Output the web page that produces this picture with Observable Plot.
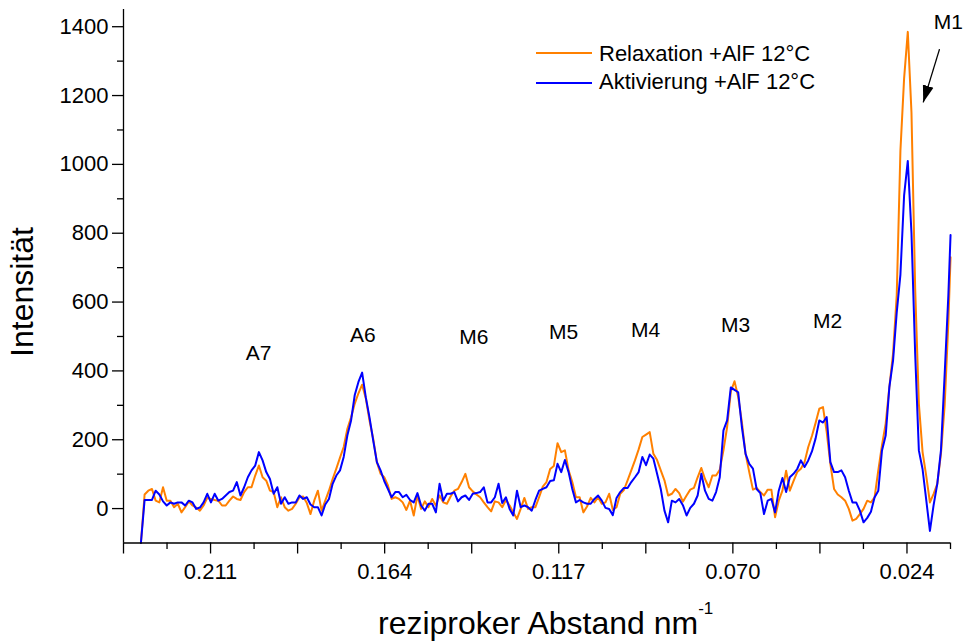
<!DOCTYPE html>
<html><head><meta charset="utf-8">
<script src="https://cdn.jsdelivr.net/npm/d3@7"></script>
<script src="https://cdn.jsdelivr.net/npm/@observablehq/plot@0.6"></script>
<style>
body{margin:0;background:#fff;font-family:"Liberation Sans",Arial,sans-serif;}
#wrap{position:relative;width:964px;height:641px;overflow:hidden;}
#wrap svg{position:absolute;left:0;top:0;}
.t{position:absolute;color:#000;white-space:nowrap;line-height:1;}
.lg{position:absolute;height:0;}
</style></head><body><div id="wrap"></div>
<script>
// reciprocal distance (nm^-1), sampling of the spectrum
const xGrid = [
0.2292,0.22821,0.22722,0.22623,0.22524,0.22425,0.22326,0.22227,0.22128,0.22029,
0.2193,0.21831,0.21732,0.21633,0.21534,0.21435,0.21336,0.21237,0.21138,0.21039,
0.2094,0.20841,0.20742,0.20643,0.20544,0.20445,0.20346,0.20247,0.20148,0.20049,
0.1995,0.19851,0.19752,0.19653,0.19554,0.19455,0.19356,0.19257,0.19158,0.19059,
0.1896,0.18861,0.18762,0.18663,0.18564,0.18465,0.18366,0.18267,0.18168,0.18069,
0.1797,0.17871,0.17772,0.17673,0.17574,0.17475,0.17376,0.17277,0.17178,0.17079,
0.1698,0.16881,0.16782,0.16683,0.16584,0.16485,0.16386,0.16287,0.16188,0.16089,
0.1599,0.15891,0.15792,0.15693,0.15594,0.15495,0.15396,0.15297,0.15198,0.15099,
0.15,0.14901,0.14802,0.14703,0.14604,0.14505,0.14406,0.14307,0.14208,0.14109,
0.1401,0.13911,0.13812,0.13713,0.13614,0.13515,0.13416,0.13317,0.13218,0.13119,
0.1302,0.12921,0.12822,0.12723,0.12624,0.12525,0.12426,0.12327,0.12228,0.12129,
0.1203,0.11931,0.11832,0.11733,0.11634,0.11535,0.11436,0.11337,0.11238,0.11139,
0.1104,0.10941,0.10842,0.10743,0.10644,0.10545,0.10446,0.10347,0.10248,0.10149,
0.1005,0.09951,0.09852,0.09753,0.09654,0.09555,0.09456,0.09357,0.09258,0.09159,
0.0906,0.08961,0.08862,0.08763,0.08664,0.08565,0.08466,0.08367,0.08268,0.08169,
0.0807,0.07971,0.07872,0.07773,0.07674,0.07575,0.07476,0.07377,0.07278,0.07179,
0.0708,0.06981,0.06882,0.06783,0.06684,0.06585,0.06486,0.06387,0.06288,0.06189,
0.0609,0.05991,0.05892,0.05793,0.05694,0.05595,0.05496,0.05397,0.05298,0.05199,
0.051,0.05001,0.04902,0.04803,0.04704,0.04605,0.04506,0.04407,0.04308,0.04209,
0.0411,0.04011,0.03912,0.03813,0.03714,0.03615,0.03516,0.03417,0.03318,0.03219,
0.0312,0.03021,0.02922,0.02823,0.02724,0.02625,0.02526,0.02427,0.02328,0.02229,
0.0213,0.02031,0.01932,0.01833,0.01734,0.01635,0.01536,0.01437,0.01338,0.01239,
0.0118];

// Intensität, Relaxation +AlF 12°C (orange)
const relaxation = [
-100,41,52,57,23,18,62,23,23,4,
14,-11,4,21,9,3,-6,9,31,28,
25,23,9,9,23,35,28,25,48,62,
62,96,125,91,81,52,48,4,33,4,
-6,-1,14,33,35,16,-16,23,52,-6,
23,52,86,116,148,179,232,265,305,335,
360,320,256,203,135,101,91,67,28,33,
28,18,-4,23,-20,38,-1,21,4,28,
9,38,18,14,35,52,57,77,101,62,
50,41,33,18,4,-8,21,18,4,25,
9,-11,-30,-1,31,-1,4,4,33,64,
77,115,124,190,164,169,111,77,33,33,
-11,6,31,18,33,14,18,43,-4,4,
43,54,82,111,140,172,208,215,222,159,
141,111,82,38,43,57,45,20,38,55,
60,91,118,86,62,96,96,113,169,237,
340,370,324,251,159,106,55,60,48,38,
55,55,-25,23,52,110,52,80,106,116,
135,179,211,249,290,295,223,130,57,41,
33,23,-1,-35,-30,-16,-1,23,18,33,
111,184,247,353,450,620,1040,1250,1385,1150,
640,305,165,95,18,43,72,160,300,540,
730];

// Intensität, Aktivierung +AlF 12°C (blue)
const aktivierung = [
-100,25,25,25,52,41,21,9,18,14,
18,18,9,23,18,-1,3,18,43,18,
43,23,28,38,48,52,77,38,62,91,
111,125,164,140,106,86,43,62,14,33,
14,18,18,38,28,33,12,4,4,-20,
12,28,72,96,111,150,213,256,330,368,
395,323,265,198,135,111,80,57,33,48,
48,33,40,25,18,45,9,-6,14,14,
-11,72,23,43,43,48,21,33,38,25,
43,45,48,62,18,18,33,72,16,33,
-1,-20,52,4,9,4,-6,25,52,57,
62,80,82,130,106,141,106,57,18,25,
18,14,14,28,38,23,2,-1,-19,31,
48,60,60,77,91,106,150,126,157,145,
101,57,-6,-40,23,18,28,10,-20,2,
14,38,101,52,28,23,48,91,227,256,
352,345,338,237,159,130,116,57,45,-16,
23,28,-11,52,89,48,91,101,115,140,
121,140,166,204,256,250,266,135,106,106,
111,91,52,18,18,-6,-40,-27,-9,33,
52,169,212,353,430,570,680,910,1010,800,
450,169,115,25,-65,10,72,170,390,620,
795];

const seriesNames = ["Relaxation +AlF 12°C", "Aktivierung +AlF 12°C"];
const seriesColors = ["#ff8000", "#0000ff"];

// axes
const xDomain = [0.233875, 0.0118125];
const yDomain = [-100, 1450];
const xLabeledTicks = [0.2105, 0.16375, 0.117, 0.07025, 0.0235];
const xTickLabels = ["0.211", "0.164", "0.117", "0.070", "0.024"];
const xUnlabeledMajor = [0.233875, 0.187125, 0.140375, 0.093625, 0.046875];
const xMinorTicks = [0.2221875, 0.1988125, 0.1754375, 0.1520625, 0.1286875, 0.1053125, 0.0819375, 0.0585625, 0.0351875, 0.0118125];
const yMajorTicks = [0, 200, 400, 600, 800, 1000, 1200, 1400];
const yMinorTicks = [100, 300, 500, 700, 900, 1100, 1300];
const xTitle = "reziproker Abstand nm";
const xTitleSup = "-1";
const yTitle = "Intensität";

// peak annotations
const peakNames = ["A7", "A6", "M6", "M5", "M4", "M3", "M2", "M1"];
const peakX = [0.1976, 0.1696, 0.1398, 0.1157, 0.0937, 0.0695, 0.0448, 0.01236];
const peakY = [450, 503, 497, 511, 517, 532, 543, 1413];
const arrowFrom = {x: 0.01476, y: 1335};
const arrowTo = {x: 0.01914, y: 1180};

const rel = xGrid.map((x, i) => ({x, y: relaxation[i]}));
const akt = xGrid.map((x, i) => ({x, y: aktivierung[i]}));
const peaks = peakNames.map((n, i) => ({n, x: peakX[i], y: peakY[i]}));
const labelMap = new Map(xLabeledTicks.map((v, i) => [v, xTickLabels[i]]));

const FONT = "Liberation Sans, Arial, sans-serif";
const ns = "http://www.w3.org/2000/svg";
function filledHead(color) {
  const m = document.createElementNS(ns, "marker");
  m.setAttribute("viewBox", "-17 -6 17 12");
  m.setAttribute("markerWidth", "17");
  m.setAttribute("markerHeight", "12");
  m.setAttribute("markerUnits", "userSpaceOnUse");
  m.setAttribute("orient", "auto");
  m.setAttribute("refX", "0");
  m.setAttribute("refY", "0");
  const p = document.createElementNS(ns, "path");
  p.setAttribute("d", "M-17,-5.5L0,0L-17,5.5Z");
  p.setAttribute("fill", "black");
  p.setAttribute("stroke", "none");
  m.appendChild(p);
  return m;
}

function build(useMarker) {
  const arrowMark = useMarker
    ? Plot.link([0], {x1: () => arrowFrom.x, y1: () => arrowFrom.y, x2: () => arrowTo.x, y2: () => arrowTo.y, stroke: "black", strokeWidth: 1.3, markerEnd: filledHead})
    : Plot.arrow([0], {x1: () => arrowFrom.x, y1: () => arrowFrom.y, x2: () => arrowTo.x, y2: () => arrowTo.y, stroke: "black", strokeWidth: 1.6, headLength: 14, headAngle: 40});
  return Plot.plot({
    width: 964, height: 641,
    marginLeft: 123, marginRight: 14, marginTop: 9, marginBottom: 98.5,
    x: {domain: xDomain},
    y: {domain: yDomain},
    style: {fontFamily: FONT, background: "white", overflow: "visible", color: "black"},
    marks: [
      Plot.line(rel, {x: "x", y: "y", stroke: seriesColors[0], strokeWidth: 2}),
      Plot.line(akt, {x: "x", y: "y", stroke: seriesColors[1], strokeWidth: 2}),
      Plot.ruleY([yDomain[0]], {stroke: "black", strokeWidth: 1.3}),
      Plot.ruleX([xDomain[0]], {stroke: "black", strokeWidth: 1.3}),
      Plot.axisX({ticks: xLabeledTicks, tickFormat: d => labelMap.get(d), tickSize: 11, tickPadding: 9, fontSize: 22, label: null, strokeWidth: 1.3}),
      Plot.axisX({ticks: xUnlabeledMajor, tickFormat: () => "", tickSize: 11, label: null, strokeWidth: 1.3}),
      Plot.axisX({ticks: xMinorTicks, tickFormat: () => "", tickSize: 6.5, label: null, strokeWidth: 1.3}),
      Plot.axisY({ticks: yMajorTicks, tickFormat: d => String(d), tickSize: 11, tickPadding: 4, fontSize: 22, label: null, strokeWidth: 1.3}),
      Plot.axisY({ticks: yMinorTicks, tickFormat: () => "", tickSize: 6, label: null, strokeWidth: 1.3}),
      Plot.text(peaks, {x: "x", y: "y", text: "n", fontSize: 21, fill: "black"}),
      arrowMark
    ]
  });
}

let chart;
try { chart = build(true); } catch (e) { chart = build(false); }
const wrap = document.getElementById("wrap");
wrap.appendChild(chart);

function addText(html, css) {
  const d = document.createElement("div");
  d.className = "t";
  d.innerHTML = html;
  Object.assign(d.style, css);
  wrap.appendChild(d);
  return d;
}
// legend
seriesNames.forEach((name, i) => {
  const ln = document.createElement("div");
  ln.className = "lg";
  Object.assign(ln.style, {left: "536px", top: (52 + 30 * i) + "px", width: "56px", borderTop: "2px solid " + seriesColors[i]});
  wrap.appendChild(ln);
  addText(name, {left: "599px", top: (43 + 28 * i) + "px", fontSize: "22px"});
});
// axis titles
addText(xTitle + '<sup style="font-size:17px;position:relative;top:-7px;vertical-align:top">' + xTitleSup + '</sup>',
  {left: "378px", top: "607px", fontSize: "32px"});
addText(yTitle, {left: "22px", top: "292px", fontSize: "32px", transform: "translate(-50%,-50%) rotate(-90deg)"});
</script>
</body></html>
